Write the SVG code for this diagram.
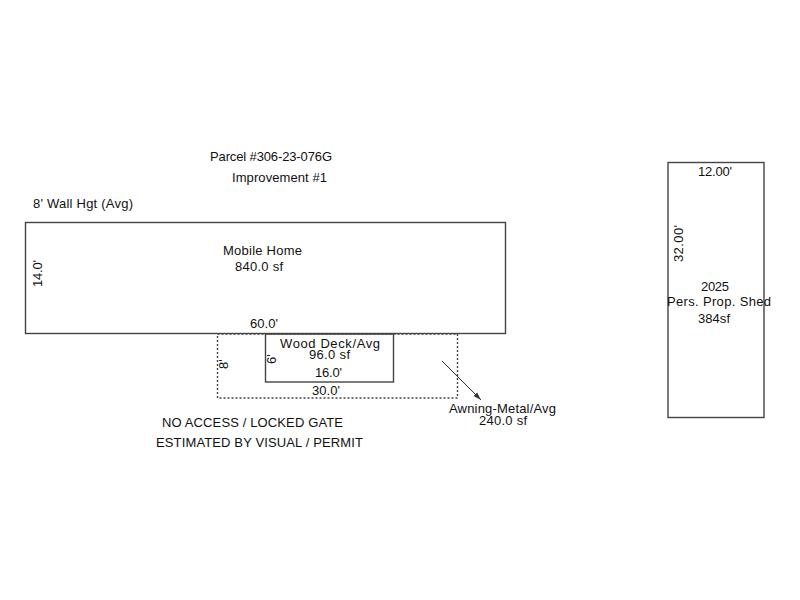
<svg xmlns="http://www.w3.org/2000/svg" width="800" height="600" viewBox="0 0 800 600">
<defs>
<style>
text{font-family:"Liberation Sans",Arial,sans-serif;font-size:13px;fill:#111}
.b{fill:none;stroke:#444;stroke-width:1.4}
.d{fill:none;stroke:#444;stroke-width:1.4;stroke-dasharray:2 2}
</style>
<marker id="a" markerWidth="8" markerHeight="6" refX="8" refY="3" orient="auto" markerUnits="userSpaceOnUse"><path d="M0 .5L8 3L0 5.500Z" fill="#333"/></marker>
</defs>
<rect width="800" height="600" fill="#fff"/>
<g id="labels">
<text x="210" y="161" textLength="122">Parcel #306-23-076G</text>
<text x="232" y="182" textLength="95">Improvement #1</text>
<text x="33" y="208" textLength="100">8' Wall Hgt (Avg)</text>
<text x="162" y="427" textLength="181">NO ACCESS / LOCKED GATE</text>
<text x="156" y="447" textLength="207">ESTIMATED BY VISUAL / PERMIT</text>
</g>
<g id="awning">
<rect class="d" x="217.500" y="334" width="240" height="64"/>
<text transform="translate(228 369) rotate(-90)">8'</text>
<text x="312" y="395" textLength="28">30.0'</text>
<text x="449" y="413" textLength="107">Awning-Metal/Avg</text>
<text x="479" y="425" textLength="48">240.0 sf</text>
</g>
<g id="mobile-home">
<rect class="b" x="25.500" y="222.500" width="480" height="111"/>
<text x="223" y="255" textLength="79">Mobile Home</text>
<text x="235" y="271" textLength="48">840.0 sf</text>
<text transform="translate(42 287) rotate(-90)" textLength="27">14.0'</text>
<text x="250" y="328" textLength="28">60.0'</text>
</g>
<g id="wood-deck">
<rect class="b" x="265.500" y="334" width="128" height="48"/>
<text x="280" y="348" textLength="100">Wood Deck/Avg</text>
<text x="309" y="359" textLength="41">96.0 sf</text>
<text transform="translate(276 364) rotate(-90)">6'</text>
<text x="315" y="377" textLength="27">16.0'</text>
</g>
<g id="shed">
<rect class="b" x="668" y="162.500" width="96" height="255"/>
<text x="698" y="176" textLength="34">12.00'</text>
<text transform="translate(683 262) rotate(-90)" textLength="37">32.00'</text>
<text x="701" y="291" textLength="28">2025</text>
<text x="667" y="306" textLength="104">Pers. Prop. Shed</text>
<text x="698" y="323" textLength="32">384sf</text>
</g>
<g id="connectors">
<line x1="442" y1="361" x2="481" y2="400" stroke="#333" stroke-width="1" marker-end="url(#a)"/>
</g>
</svg>
